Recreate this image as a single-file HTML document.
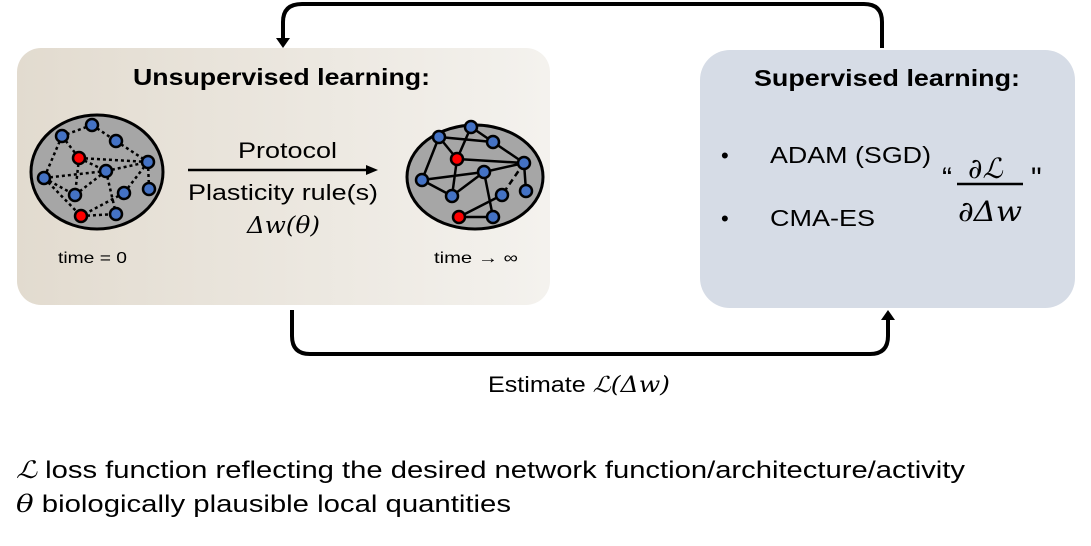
<!DOCTYPE html>
<html><head><meta charset="utf-8"><style>
body{margin:0;width:1091px;height:541px;background:#fff;overflow:hidden}
svg text{font-family:"Liberation Sans",sans-serif;fill:#000}
.m{font-family:"DejaVu Serif","Liberation Serif",serif;font-style:italic}
</style></head><body>
<svg width="1091" height="541" viewBox="0 0 1091 541">
<defs>
<linearGradient id="g" x1="0" x2="1" y1="0" y2="0">
<stop offset="0" stop-color="#e2dbcf"/><stop offset="1" stop-color="#f4f2ee"/></linearGradient>
</defs>
<rect x="17" y="48" width="533" height="257" rx="24" fill="url(#g)"/>
<rect x="700" y="50" width="375" height="258" rx="30" fill="#d6dce6"/>
<path d="M882 48 V22 Q882 4 864 4 H302 Q283 4 283 22 V40" fill="none" stroke="#000" stroke-width="4"/>
<polygon points="276,38 290,38 283,48" fill="#000"/>
<path d="M292 310 V336 Q292 354 310 354 H870 Q888 354 888 336 V318" fill="none" stroke="#000" stroke-width="4"/>
<polygon points="881,320 895,320 888,310" fill="#000"/>
<text x="133" y="85" font-size="23" font-weight="bold" textLength="297" lengthAdjust="spacingAndGlyphs">Unsupervised learning:</text>
<text x="754" y="86" font-size="23" font-weight="bold" textLength="266" lengthAdjust="spacingAndGlyphs">Supervised learning:</text>
<ellipse cx="97" cy="172" rx="66" ry="57" fill="#a6a6a6" stroke="#000" stroke-width="3"/>
<g stroke="#000" stroke-width="2.5" stroke-dasharray="3,3" fill="none">
<path d="M92 125L62 136M92 125L116 141M116 141L148 162M62 136L44 178M62 136L79 158M79 158L148 162M79 158L106 171M79 158L75 195M106 171L148 162M44 178L106 171M44 178L75 195M44 178L81 216M106 171L116 214M148 162L124 193M148 162L149 189M124 193L81 216M81 216L116 214M75 195L106 171"/>
</g>
<g stroke="#000" stroke-width="2.5">
<circle cx="92" cy="125" r="6" fill="#4472c4"/><circle cx="62" cy="136" r="6" fill="#4472c4"/>
<circle cx="116" cy="141" r="6" fill="#4472c4"/><circle cx="79" cy="158" r="6" fill="#f00"/>
<circle cx="148" cy="162" r="6" fill="#4472c4"/><circle cx="106" cy="171" r="6" fill="#4472c4"/>
<circle cx="44" cy="178" r="6" fill="#4472c4"/><circle cx="75" cy="195" r="6" fill="#4472c4"/>
<circle cx="124" cy="193" r="6" fill="#4472c4"/><circle cx="149" cy="189" r="6" fill="#4472c4"/>
<circle cx="81" cy="216" r="6" fill="#f00"/><circle cx="116" cy="214" r="6" fill="#4472c4"/>
</g>
<text x="58" y="263" font-size="16" textLength="69" lengthAdjust="spacingAndGlyphs">time = 0</text>
<ellipse cx="475" cy="177" rx="68" ry="52" fill="#a6a6a6" stroke="#000" stroke-width="3"/>
<g stroke="#000" stroke-width="2.5" fill="none">
<path d="M471 127L493 142M471 127L457 159M439 137L493 142M439 137L422 180M439 137L457 159M493 142L524 163M457 159L524 163M457 159L452 196M484 172L524 163M422 180L484 172M422 180L452 196M452 196L484 172M484 172L493 217M502 195L459 217M459 217L493 217M524 163L526 191"/>
<path d="M524 163L502 195" stroke-dasharray="6,4"/>
</g>
<g stroke="#000" stroke-width="2.5">
<circle cx="471" cy="127" r="6" fill="#4472c4"/><circle cx="439" cy="137" r="6" fill="#4472c4"/>
<circle cx="493" cy="142" r="6" fill="#4472c4"/><circle cx="457" cy="159" r="6" fill="#f00"/>
<circle cx="524" cy="163" r="6" fill="#4472c4"/><circle cx="484" cy="172" r="6" fill="#4472c4"/>
<circle cx="422" cy="180" r="6" fill="#4472c4"/><circle cx="452" cy="196" r="6" fill="#4472c4"/>
<circle cx="502" cy="195" r="6" fill="#4472c4"/><circle cx="526" cy="191" r="6" fill="#4472c4"/>
<circle cx="459" cy="217" r="6" fill="#f00"/><circle cx="493" cy="217" r="6" fill="#4472c4"/>
</g>
<text x="434" y="263" font-size="16" textLength="84" lengthAdjust="spacingAndGlyphs">time → ∞</text>
<text x="238" y="158" font-size="22" textLength="99" lengthAdjust="spacingAndGlyphs">Protocol</text>
<line x1="188" y1="170" x2="368" y2="170" stroke="#000" stroke-width="2.5"/>
<polygon points="366,165 378,170 366,175" fill="#000"/>
<text x="188" y="200" font-size="22" textLength="190" lengthAdjust="spacingAndGlyphs">Plasticity rule(s)</text>
<text x="247" y="233" font-size="23" class="m" textLength="73" lengthAdjust="spacingAndGlyphs">Δw(θ)</text>
<text x="721" y="163" font-size="22">•</text>
<text x="770" y="163" font-size="23" textLength="161" lengthAdjust="spacingAndGlyphs">ADAM (SGD)</text>
<text x="721" y="226" font-size="22">•</text>
<text x="770" y="226" font-size="23" textLength="105" lengthAdjust="spacingAndGlyphs">CMA-ES</text>
<text x="942" y="188" font-size="30">“</text>
<text x="968" y="178" font-size="28" class="m">∂ℒ</text>
<line x1="957" y1="184" x2="1023" y2="184" stroke="#000" stroke-width="2.5"/>
<text x="958" y="221" font-size="28" class="m" textLength="64" lengthAdjust="spacingAndGlyphs">∂Δw</text>
<text x="1031" y="188" font-size="30">"</text>
<text x="488" y="392" font-size="22" textLength="182" lengthAdjust="spacingAndGlyphs">Estimate <tspan class="m">ℒ(Δw)</tspan></text>
<text x="16" y="478" font-size="24" textLength="949" lengthAdjust="spacingAndGlyphs"><tspan class="m">ℒ</tspan> loss function reflecting the desired network function/architecture/activity</text>
<text x="16" y="512" font-size="24" textLength="495" lengthAdjust="spacingAndGlyphs"><tspan class="m">θ</tspan> biologically plausible local quantities</text>
</svg>
</body></html>
